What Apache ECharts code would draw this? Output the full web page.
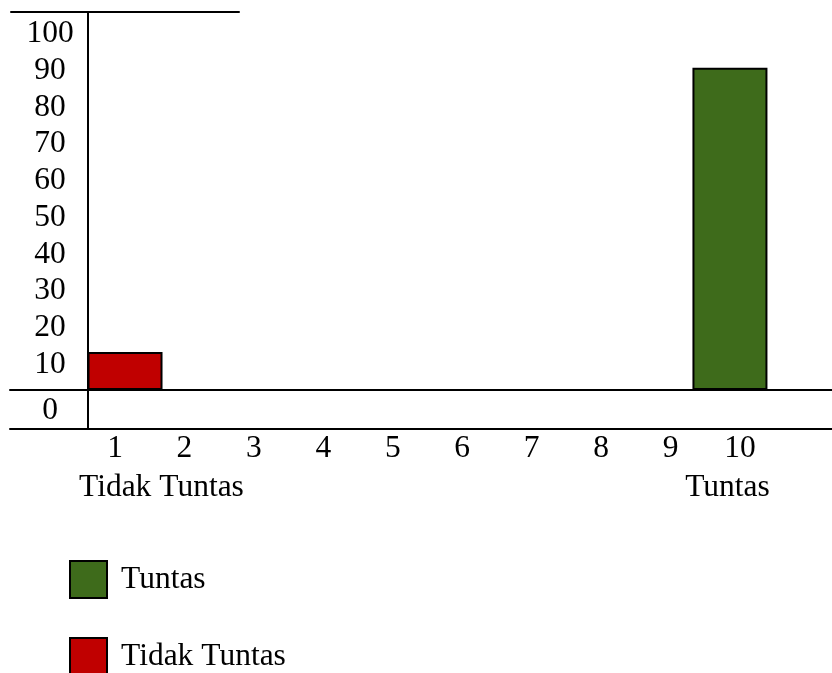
<!DOCTYPE html>
<html>
<head>
<meta charset="utf-8">
<script src="https://cdn.jsdelivr.net/npm/echarts@6/dist/echarts.min.js"></script>
<style>html,body{margin:0;padding:0;background:#fff}#c{width:832px;height:673px}</style>
</head>
<body>
<div id="c"></div>
<script>
const categories = ['1','2','3','4','5','6','7','8','9','10'];
const groupLabels = ['', 'Tidak Tuntas', '', '', '', '', '', '', '', 'Tuntas'];
const tuntasValues = ['-','-','-','-','-','-','-','-','-',90];
const tidakTuntasValues = [10.6,'-','-','-','-','-','-','-','-','-'];
const yTickLabels = [0,10,20,30,40,50,60,70,80,90,100];
const seriesNames = ['Tuntas','Tidak Tuntas'];

const FONT = "'Liberation Serif', 'Times New Roman', serif";
const FS = 31.5;
const lineStyle = {color:'#000', width:2};
function lineAxis(extra){
  return Object.assign({type:'value', axisLine:{show:true, onZero:false, lineStyle:lineStyle},
    axisTick:{show:false}, axisLabel:{show:false}, splitLine:{show:false}}, extra);
}

const chart = echarts.init(document.getElementById('c'), null, {renderer:'canvas'});
chart.setOption({
  animation:false,
  backgroundColor:'#fff',
  grid:[
    {left:10, right:0, top:390, height:38.5},
    {left:11, width:228, top:12, height:10},
    {left:88, width:10, top:12, height:416.5},
    {left:80.28, width:694.4, top:32, height:358},
    {left:88, width:10, top:34, height:367.2}
  ],
  xAxis:[
    lineAxis({gridIndex:0, position:'top'}),
    lineAxis({gridIndex:0, position:'bottom'}),
    lineAxis({gridIndex:1, position:'top'}),
    {gridIndex:2, type:'value', show:false},
    {gridIndex:3, type:'category', data:categories, position:'bottom',
      axisLine:{show:false}, axisTick:{show:false}, splitLine:{show:false},
      axisLabel:{interval:0, margin:39, fontSize:FS, fontFamily:FONT, color:'#000', lineHeight:39,
        formatter:function(value, index){
          const g = groupLabels[index];
          if(!g) return '{n|' + value + '}';
          return '{n|' + value + '}\n{' + (index === 1 ? 'ga' : 'gb') + '|' + g + '}';
        },
        rich:{
          n:{align:'center', fontSize:FS, fontFamily:FONT, color:'#000', lineHeight:39},
          ga:{align:'left', padding:[0,46,0,0], fontSize:FS, fontFamily:FONT, color:'#000', lineHeight:39},
          gb:{align:'left', padding:[0,25,0,0], fontSize:FS, fontFamily:FONT, color:'#000', lineHeight:39}
        }
      }
    },
    {gridIndex:4, type:'value', show:false}
  ],
  yAxis:[
    {gridIndex:0, type:'value', show:false},
    {gridIndex:1, type:'value', show:false},
    lineAxis({gridIndex:2, position:'left'}),
    {gridIndex:3, type:'value', min:yTickLabels[0], max:yTickLabels[yTickLabels.length-1], show:false},
    {gridIndex:4, type:'value', min:yTickLabels[0], max:yTickLabels[yTickLabels.length-1],
      interval:yTickLabels[1]-yTickLabels[0],
      axisLine:{show:false}, axisTick:{show:false}, splitLine:{show:false},
      axisLabel:{align:'center', margin:38, fontSize:FS, fontFamily:FONT, color:'#000',
        formatter:function(v){ return v === 0 ? '{z|0}' : String(v); },
        rich:{ z:{padding:[20,0,0,0], fontSize:FS, fontFamily:FONT, color:'#000'} }
      }
    }
  ],
  legend:{
    data:seriesNames, orient:'vertical', left:69, top:560, height:300, padding:0,
    icon:'rect', itemWidth:37, itemHeight:37, itemGap:38,
    textStyle:{fontSize:FS, fontFamily:FONT, color:'#000', padding:[0,0,0,9], lineHeight:37}
  },
  series:[
    {name:seriesNames[0], type:'bar', xAxisIndex:4, yAxisIndex:3, data:tuntasValues,
      barWidth:75, barGap:'-73.3%',
      itemStyle:{color:'#3e6b1b', borderColor:'#000', borderWidth:2}},
    {name:seriesNames[1], type:'bar', xAxisIndex:4, yAxisIndex:3, data:tidakTuntasValues,
      barWidth:75, barGap:'-73.3%',
      itemStyle:{color:'#c00000', borderColor:'#000', borderWidth:2}}
  ]
});
</script>
</body>
</html>
